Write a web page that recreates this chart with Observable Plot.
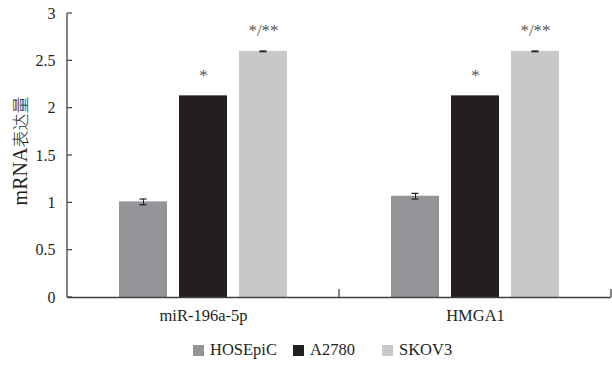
<!DOCTYPE html>
<html>
<head>
<meta charset="utf-8">
<script src="https://cdn.jsdelivr.net/npm/d3@7"></script>
<script src="https://cdn.jsdelivr.net/npm/@observablehq/plot@0.6"></script>
<style>
  html, body { margin: 0; padding: 0; background: #fff; }
  #wrap { position: relative; width: 612px; height: 365px; font-family: "Liberation Serif", "Times New Roman", serif; }
  #legend { position: absolute; left: 193px; top: 340px; display: flex; align-items: center; font-size: 16.5px; color: #231f20; }
  #legend .item { display: flex; align-items: center; }
  #legend .sw { width: 11px; height: 11px; margin-right: 6px; }
</style>
</head>
<body>
<div id="wrap"></div>
<script>
const genes = ["miR-196a-5p", "HMGA1"];
const cells = ["HOSEpiC", "A2780", "SKOV3"];
const colors = ["#939598", "#231f20", "#c7c8ca"];
const hosepicValues = [1.01, 1.07];
const a2780Values = [2.13, 2.13];
const skov3Values = [2.60, 2.60];
const hosepicErr = [0.03, 0.03];
const a2780Err = [0, 0];
const skov3Err = [0.004, 0.004];
const a2780Sig = ["*", "*"];
const skov3Sig = ["*/**", "*/**"];
const yTicks = [0, 0.5, 1, 1.5, 2, 2.5, 3];
const yLabelLatin = "mRNA";
const yLabelCJK = "表达量";

const series = [
  {cell: cells[0], values: hosepicValues, err: hosepicErr, sig: ["", ""]},
  {cell: cells[1], values: a2780Values, err: a2780Err, sig: a2780Sig},
  {cell: cells[2], values: skov3Values, err: skov3Err, sig: skov3Sig}
];
const rows = [];
series.forEach(s => genes.forEach((g, i) => rows.push({gene: g, cell: s.cell, value: s.values[i], err: s.err[i], sig: s.sig[i]})));
const errRows = rows.filter(d => d.err > 0);

const axisColor = "#404040";

const plot = Plot.plot({
  width: 612,
  height: 330,
  marginTop: 13,
  marginBottom: 33,
  marginLeft: 67,
  marginRight: 1,
  style: {fontFamily: "'Liberation Serif', 'Times New Roman', serif", fontSize: "16px", color: "#231f20", background: "#fff"},
  fx: {domain: genes, padding: 0, label: null},
  x: {domain: cells, paddingInner: 0.207, paddingOuter: 0.85, axis: null},
  y: {domain: [0, 3], label: null},
  color: {domain: cells, range: colors},
  marks: [
    Plot.barY(rows, {fx: "gene", x: "cell", y: "value", fill: "cell"}),
    Plot.ruleX(errRows, {fx: "gene", x: "cell", y1: d => d.value - d.err, y2: d => d.value + d.err, stroke: "#231f20", strokeWidth: 1}),
    Plot.tickY(errRows, {fx: "gene", x: "cell", y: d => d.value - d.err, stroke: "#231f20", strokeWidth: 1.2, insetLeft: 20.5, insetRight: 20.5}),
    Plot.tickY(errRows, {fx: "gene", x: "cell", y: d => d.value + d.err, stroke: "#231f20", strokeWidth: 1.2, insetLeft: 20.5, insetRight: 20.5}),
    Plot.text(rows.filter(d => d.sig), {fx: "gene", x: "cell", y: "value", text: "sig", lineAnchor: "bottom", dy: -15, fill: "#555", fontSize: 17}),
    Plot.ruleY([0], {stroke: axisColor, strokeWidth: 1.3}),
    Plot.axisY({ticks: yTicks, tickSize: 0, tickPadding: 12, tickFormat: d => String(d), fontSize: 16, label: null}),
    Plot.axisFx({anchor: "bottom", tickSize: 0, tickPadding: 12, fontSize: 16.5, label: null})
  ]
});

document.getElementById("wrap").appendChild(plot);

// axis line on the left, inward y ticks, and inward ticks at group boundaries, positioned from Plot's scales
const svg = d3.select(plot);
const fx = plot.scale("fx");
const y = plot.scale("y");
const x0 = fx.apply(genes[0]);
svg.append("line")
  .attr("x1", x0).attr("x2", x0)
  .attr("y1", y.apply(0)).attr("y2", y.apply(3))
  .attr("stroke", axisColor).attr("stroke-width", 1.3);
yTicks.forEach(t => {
  svg.append("line")
    .attr("x1", x0).attr("x2", x0 + 5)
    .attr("y1", y.apply(t)).attr("y2", y.apply(t))
    .attr("stroke", axisColor).attr("stroke-width", 1.2);
});
genes.forEach(g => {
  const xr = fx.apply(g) + fx.bandwidth;
  svg.append("line")
    .attr("x1", xr).attr("x2", xr)
    .attr("y1", y.apply(0)).attr("y2", y.apply(0) - 8)
    .attr("stroke", axisColor).attr("stroke-width", 1.3);
});
// y axis title with mixed script
const yl = svg.append("text")
  .attr("transform", `translate(27,${(y.apply(0) + y.apply(3)) / 2 - 4}) rotate(-90)`)
  .attr("text-anchor", "middle")
  .attr("fill", "#231f20");
yl.append("tspan").attr("font-size", 20).attr("font-family", "'Liberation Serif', serif").text(yLabelLatin);
yl.append("tspan").attr("font-size", 17).attr("font-family", "'Noto Sans CJK SC', sans-serif").attr("font-weight", 300).text(yLabelCJK);

// legend
const legend = document.createElement("div");
legend.id = "legend";
const itemWidths = [100, 89, null];
cells.forEach((c, i) => {
  const item = document.createElement("div");
  item.className = "item";
  if (itemWidths[i]) item.style.width = itemWidths[i] + "px";
  const sw = document.createElement("span");
  sw.className = "sw";
  sw.style.background = colors[i];
  const t = document.createElement("span");
  t.textContent = c;
  item.appendChild(sw);
  item.appendChild(t);
  legend.appendChild(item);
});
document.getElementById("wrap").appendChild(legend);
</script>
</body>
</html>
